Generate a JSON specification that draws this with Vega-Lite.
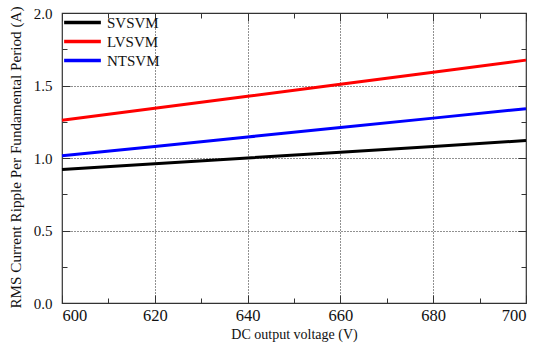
{
  "$schema": "https://vega.github.io/schema/vega-lite/v6.json",
  "width": 464,
  "height": 290,
  "autosize": {"type": "none"},
  "padding": {"left": 62, "top": 13, "right": 12, "bottom": 40},
  "background": "white",
  "config": {
    "font": "Liberation Serif",
    "view": {"stroke": "#333", "strokeWidth": 1.2},
    "axis": {"labelFont": "Liberation Serif", "titleFont": "Liberation Serif", "labelColor": "#111", "titleColor": "#111", "titleFontWeight": "normal", "domain": false}
  },
  "data": {
    "values": [
      {"voltage": 600, "value": 0.92, "method": "SVSVM"},
      {"voltage": 620, "value": 0.96, "method": "SVSVM"},
      {"voltage": 640, "value": 1.0, "method": "SVSVM"},
      {"voltage": 660, "value": 1.04, "method": "SVSVM"},
      {"voltage": 680, "value": 1.08, "method": "SVSVM"},
      {"voltage": 700, "value": 1.12, "method": "SVSVM"},
      {"voltage": 600, "value": 1.26, "method": "LVSVM"},
      {"voltage": 620, "value": 1.343, "method": "LVSVM"},
      {"voltage": 640, "value": 1.426, "method": "LVSVM"},
      {"voltage": 660, "value": 1.509, "method": "LVSVM"},
      {"voltage": 680, "value": 1.592, "method": "LVSVM"},
      {"voltage": 700, "value": 1.675, "method": "LVSVM"},
      {"voltage": 600, "value": 1.015, "method": "NTSVM"},
      {"voltage": 620, "value": 1.08, "method": "NTSVM"},
      {"voltage": 640, "value": 1.145, "method": "NTSVM"},
      {"voltage": 660, "value": 1.21, "method": "NTSVM"},
      {"voltage": 680, "value": 1.275, "method": "NTSVM"},
      {"voltage": 700, "value": 1.34, "method": "NTSVM"}
    ]
  },
  "resolve": {"axis": {"x": "independent", "y": "independent"}},
  "layer": [
    {
      "mark": {"type": "line", "strokeWidth": 3},
      "encoding": {
        "x": {
          "field": "voltage", "type": "quantitative",
          "scale": {"domain": [600, 700], "nice": false, "zero": false},
          "axis": {
            "orient": "bottom",
            "title": "DC output voltage (V)",
            "titleFontSize": 14,
            "titlePadding": 4,
            "values": [600, 610, 620, 630, 640, 650, 660, 670, 680, 690, 700],
            "labelExpr": "datum.value % 20 === 0 ? datum.label : ''",
            "labelFontSize": 16.5,
            "labelPadding": 12,
            "tickSize": {"condition": {"test": "datum.value % 20 === 0", "value": -8}, "value": -5},
            "tickColor": "#333",
            "grid": true,
            "gridDash": [1, 2],
            "gridColor": "#222",
            "gridOpacity": {"condition": {"test": "datum.value % 20 === 0 && datum.value > 600 && datum.value < 700", "value": 1}, "value": 0}
          }
        },
        "y": {
          "field": "value", "type": "quantitative",
          "scale": {"domain": [0, 2], "nice": false},
          "axis": {
            "orient": "left",
            "title": "RMS Current Ripple Per Fundamental Period (A)",
            "titleFontSize": 15.2,
            "titlePadding": 10,
            "titleY": 144,
            "values": [0, 0.25, 0.5, 0.75, 1, 1.25, 1.5, 1.75, 2],
            "labelExpr": "(datum.value * 2) % 1 === 0 ? format(datum.value, '.1f') : ''",
            "labelFontSize": 15,
            "labelPadding": 18,
            "tickSize": {"condition": {"test": "(datum.value * 2) % 1 === 0", "value": -8}, "value": -5},
            "tickColor": "#333",
            "grid": true,
            "gridDash": [1, 2],
            "gridColor": "#222",
            "gridOpacity": {"condition": {"test": "(datum.value * 2) % 1 === 0 && datum.value > 0 && datum.value < 2", "value": 1}, "value": 0}
          }
        },
        "color": {
          "field": "method", "type": "nominal",
          "scale": {"domain": ["SVSVM", "LVSVM", "NTSVM"], "range": ["#000000", "#ff0000", "#0000ff"]},
          "legend": {
            "orient": "none",
            "legendX": 0,
            "legendY": 0,
            "title": null,
            "symbolType": "stroke",
            "symbolSize": 1350,
            "symbolStrokeWidth": 3.5,
            "clipHeight": 19,
            "labelFontSize": 15,
            "labelFont": "Liberation Serif",
            "labelColor": "#111",
            "rowPadding": 0,
            "labelOffset": 4
          }
        }
      }
    },
    {
      "mark": {"type": "line", "opacity": 0},
      "encoding": {
        "x": {
          "field": "voltage", "type": "quantitative",
          "axis": {
            "orient": "top", "title": null, "labels": false, "grid": false,
            "values": [600, 610, 620, 630, 640, 650, 660, 670, 680, 690, 700],
            "tickSize": {"condition": {"test": "datum.value % 20 === 0", "value": -8}, "value": -5},
            "tickColor": "#333"
          }
        },
        "y": {
          "field": "value", "type": "quantitative",
          "axis": {
            "orient": "right", "title": null, "labels": false, "grid": false,
            "values": [0, 0.25, 0.5, 0.75, 1, 1.25, 1.5, 1.75, 2],
            "tickSize": {"condition": {"test": "(datum.value * 2) % 1 === 0", "value": -8}, "value": -5},
            "tickColor": "#333"
          }
        },
        "detail": {"field": "method"}
      }
    }
  ]
}
